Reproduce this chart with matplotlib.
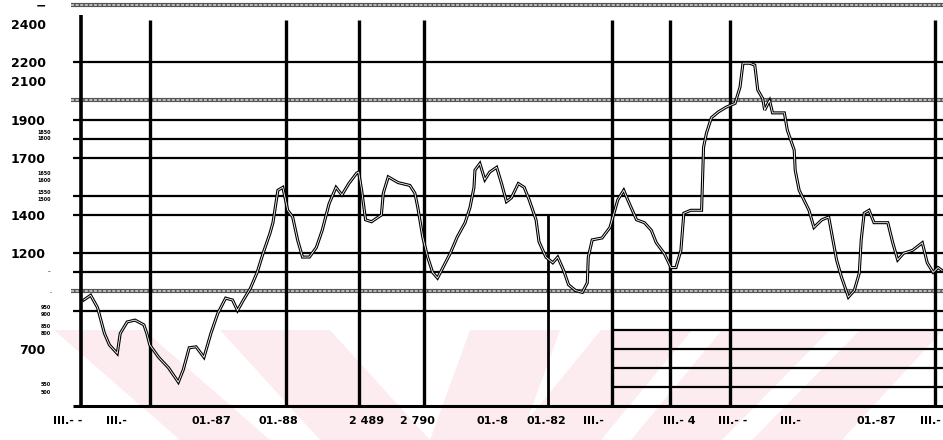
import matplotlib
matplotlib.use('Agg')
import matplotlib.pyplot as plt
import matplotlib.patches as mpatches

# ── DATA ──
days = [3, 10, 17, 24, 29, 37, 40, 47, 55, 64,
        67, 70, 79, 89, 99, 104, 110, 117, 125, 132,
        139, 147, 154, 159, 165, 172, 179, 185, 192, 195,
        200, 205, 210, 215, 220, 225, 232, 239, 245, 252,
        259, 265, 272, 280, 282, 285, 289, 295, 305, 307,
        312, 322, 334, 339, 342, 347, 352, 357, 362, 369,
        375, 382, 390, 395, 399, 400, 405, 410, 415, 422,
        427, 432, 437, 444, 450, 455, 462, 465, 472, 479,
        484, 490, 495, 502, 509, 514, 515, 519, 529, 537,
        545, 551, 555, 564, 572, 579, 584, 592, 599, 604,
        609, 612, 619, 630, 632, 635, 640, 647, 655, 664,
        669, 672, 679, 684, 687, 692, 694, 699, 702, 714,
        717, 724, 725, 729, 739, 744, 752, 759, 762, 767,
        772, 779, 785, 790, 792, 795, 800, 805, 819, 824,
        829, 835, 844, 854, 859, 865, 870, 874]
values = [955, 980, 915, 780, 720, 675, 780, 840, 850, 825,
          780, 720, 655, 600, 525, 590, 705, 710, 655, 780,
          885, 965, 955, 900, 955, 1015, 1100, 1200, 1305, 1360,
          1530, 1545, 1425, 1390, 1270, 1180, 1180, 1230, 1320, 1460,
          1545, 1505, 1565, 1620, 1625, 1530, 1375, 1365, 1400, 1515,
          1600, 1570, 1555, 1515, 1440, 1285, 1180, 1100, 1070, 1140,
          1200, 1285, 1360, 1440, 1545, 1635, 1670, 1585, 1625, 1650,
          1565, 1470, 1490, 1565, 1545, 1480, 1375, 1260, 1180, 1150,
          1180, 1110, 1035, 1005, 995, 1045, 1180, 1270, 1280, 1335,
          1480, 1530, 1480, 1375, 1360, 1320, 1255, 1200, 1125, 1125,
          1215, 1410, 1425, 1425, 1755, 1830, 1910, 1940, 1965, 1985,
          2070, 2195, 2195, 2185, 2055, 2010, 1950, 2000, 1935, 1935,
          1845, 1740, 1635, 1530, 1425, 1335, 1375, 1390, 1305, 1165,
          1075, 970, 1005, 1095, 1270, 1410, 1425, 1360, 1360, 1255,
          1165, 1200, 1215, 1255, 1150, 1100, 1125, 1110]

ytick_vals = [2500, 2400, 2200, 2100, 1900, 1700, 1400, 1200, 700]
ytick_labels = ['\u2212', '2400', '2200', '2100', '1900', '1700', '1400', '1200', '700']
small_vals = [1830, 1800, 1620, 1580, 1520, 1480, 1110, 1000, 915, 880, 815, 780, 510, 470]
small_labels = ['1850', '1800', '1650', '1600', '1550', '1500', '..', '.', '950', '900',
                '850', '800', '550', '500']

xtick_pos = [-13, 36, 132, 200, 290, 342, 418, 472, 520, 607, 662, 720, 807, 862]
xtick_labels = ['III.- -', 'III.-', '01.-87', '01.-88', '2 489', '2 790', '01.-8',
                '01.-82', 'III.-', 'III.- 4', 'III.- -', 'III.-', '01.-87', 'III.-']

grid_full = [2200, 1900, 1800, 1700, 1500, 1400, 1200, 1100, 900]
grid_double = [2500, 2000, 1000]
grid_lower = [800, 700, 600, 500]
vlines_full = [70, 208, 282, 348, 539, 598, 659, 867]
vline_partial = 474

# ── FIGURE ──
fig = plt.figure(figsize=(9.43, 4.40), dpi=100)
fig.patch.set_facecolor('white')

# faint pink watermark stripes behind the chart (figure pixels)
W, H = 943.0, 440.0
stripes = [
    [(54, 330), (144, 330), (270, 440), (180, 440)],
    [(220, 330), (330, 330), (430, 440), (320, 440)],
    [(470, 330), (560, 330), (520, 440), (430, 440)],
    [(601, 330), (692, 330), (601, 440), (511, 440)],
    [(722, 330), (830, 330), (722, 440), (631, 440)],
    [(860, 330), (943, 330), (842, 440), (752, 440)],
]
for pts in stripes:
    poly = mpatches.Polygon([(x / W, 1 - y / H) for x, y in pts], closed=True,
                            facecolor='#fdecef', edgecolor='none', zorder=-5,
                            transform=fig.transFigure)
    fig.patches.append(poly)

ax = fig.add_axes([68 / W, 34 / H, 875 / W, 401 / H])
ax.set_zorder(2)
ax.patch.set_alpha(0)
ax.set_xlim(0, 875)
ax.set_ylim(400, 2500)
for s in ax.spines.values():
    s.set_visible(False)

# ── GRID ──
ax.hlines(grid_full, -8, 875, color='black', lw=1.6, zorder=2, clip_on=False)
ax.hlines(grid_lower, 539, 875, color='black', lw=1.6, zorder=2, clip_on=False)
ax.hlines(grid_double, -10, 875, color='#555555', lw=3.0, zorder=2, clip_on=False)
ax.hlines(grid_double, -10, 875, color='#d8d8d8', lw=1.1, zorder=2,
          linestyles=(0, (2, 1)), clip_on=False)
ax.vlines(vlines_full, 400, 2420, color='black', lw=2.4, zorder=2)
ax.vlines(vline_partial, 400, 1400, color='black', lw=2.0, zorder=2)
# axes
ax.vlines(0, 400, 2450, color='black', lw=2.6, zorder=2)
ax.hlines(400, -8, 875, color='black', lw=2.2, zorder=2, clip_on=False)

# ── SERIES (hollow scanned look) ──
ax.plot(days, values, color='black', lw=2.2, zorder=4, solid_joinstyle='miter')
ax.plot(days, values, color='white', lw=0.6, zorder=5)

# ── LABELS ──
ax.set_yticks(ytick_vals, ytick_labels)
ax.set_xticks(xtick_pos, xtick_labels)
ax.tick_params(axis='y', length=0, pad=16, labelsize=9)
ax.tick_params(axis='x', length=0, pad=7, labelsize=8)
for lab in ax.get_yticklabels() + ax.get_xticklabels():
    lab.set_fontweight('bold')

for v, s in zip(small_vals, small_labels):
    ax.text(-30, v, s, ha='right', va='center', fontsize=3.5,
            fontweight='bold', clip_on=False)

fig.savefig('out.png', dpi=100, facecolor='white')
